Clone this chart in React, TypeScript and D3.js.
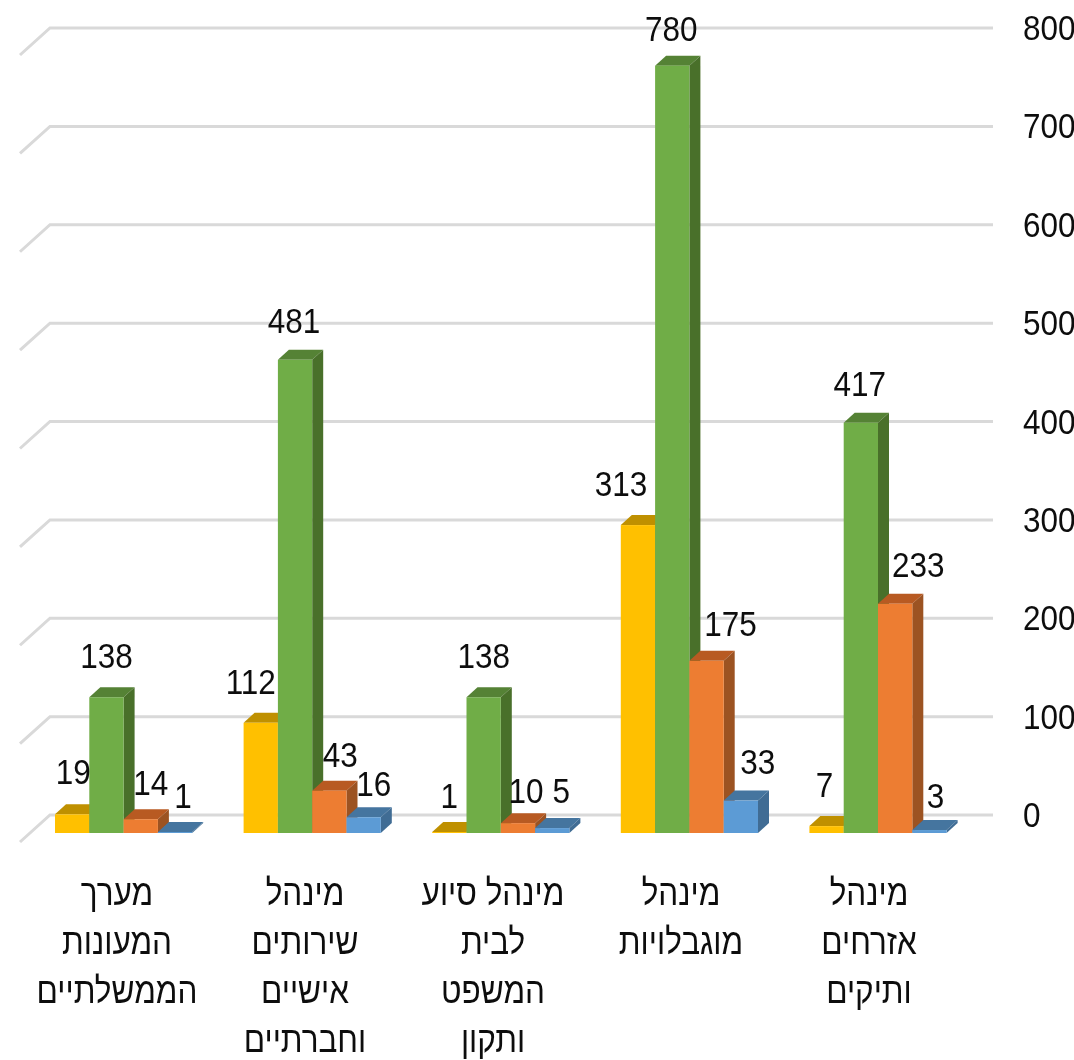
import React from "react";
import * as d3 from "d3";

const categories: string[][] = [
  ["מערך", "המעונות", "הממשלתיים"],
  ["מינהל", "שירותים", "אישיים", "וחברתיים"],
  ["מינהל סיוע", "לבית", "המשפט", "ותקון"],
  ["מינהל", "מוגבלויות"],
  ["מינהל", "אזרחים", "ותיקים"],
];
const yellowValues = [19, 112, 1, 313, 7];
const greenValues = [138, 481, 138, 780, 417];
const orangeValues = [14, 43, 10, 175, 233];
const blueValues = [1, 16, 5, 33, 3];
const seriesKeys = ["yellow", "green", "orange", "blue"];
const tickValues = [0, 100, 200, 300, 400, 500, 600, 700, 800];

const palette: Record<string, { front: string; top: string; side: string }> = {
  yellow: { front: "#FFC000", top: "#BF9000", side: "#A67D00" },
  green: { front: "#70AD47", top: "#548235", side: "#4A6F2B" },
  orange: { front: "#ED7D31", top: "#B85A22", side: "#9C5220" },
  blue: { front: "#5B9BD5", top: "#44749F", side: "#3F6C94" },
};

// layout nudges for data labels (x, baseline gap above front top), by series then category
const labelDx = [
  [1, -10, 0, -17, -2],
  [0, -1, 0, -1, -1],
  [10, 11, 8, 24, 23],
  [8, 10, 9, 17, 6],
];
const labelGap = [
  [30, 29, 24, 29, 29],
  [29, 27, 29, 25, 27],
  [24, 24, 20, 25, 27],
  [24, 21, 25, 27, 22],
];

const W = 1074;
const H = 1060;
const DX = 11;
const DY = -10;
const BACK_DX = 30;
const BACK_DY = 27;

const y = d3.scaleLinear().domain([0, 800]).range([815, 28]);
const yBar = d3.scaleLinear().domain([0, 800]).range([833, 46]);
const barW = 34.3;
const groupStart = (i: number) => 55 + i * 188.6;

const seriesData: number[][] = [yellowValues, greenValues, orangeValues, blueValues];
const font = "'Liberation Sans', Arial, sans-serif";
const textSize = 36;
const squeeze = 0.875;
const poly = (pts: number[][]) => d3.line()(pts as [number, number][]) + "Z";

export default function App() {
  return (
    <svg
      width={W}
      height={H}
      viewBox={`0 0 ${W} ${H}`}
      style={{ position: "absolute", left: 0, top: 0, background: "#fff" }}
    >
      <defs>
        <filter id="soft" x="-5%" y="-5%" width="110%" height="110%">
          <feGaussianBlur stdDeviation="0.6" />
        </filter>
      </defs>
      <g filter="url(#soft)">
        {tickValues.map((t) => (
          <path
            key={t}
            d={d3.line()([
              [50 - BACK_DX, y(t) + BACK_DY],
              [50, y(t)],
              [993, y(t)],
            ])!}
            fill="none"
            stroke="#D9D9D9"
            strokeWidth={3}
          />
        ))}
        {categories.map((_, c) =>
          seriesKeys.map((k, s) => {
            const v = seriesData[s][c];
            const x0 = groupStart(c) + s * barW;
            const x1 = x0 + barW;
            const yTop = yBar(v);
            const yBase = yBar(0);
            const col = palette[k];
            return (
              <g key={k + c}>
                <path d={poly([[x0, yTop], [x0 + DX, yTop + DY], [x1 + DX, yTop + DY], [x1, yTop]])} fill={col.top} />
                <path d={poly([[x1, yTop], [x1 + DX, yTop + DY], [x1 + DX, yBase + DY], [x1, yBase]])} fill={col.side} />
                <rect x={x0} y={yTop} width={barW} height={yBase - yTop} fill={col.front} />
              </g>
            );
          })
        )}
        {categories.map((_, c) =>
          seriesKeys.map((k, s) => {
            const v = seriesData[s][c];
            const cx = groupStart(c) + (s + 0.5) * barW + labelDx[s][c];
            const by = yBar(v) - labelGap[s][c];
            return (
              <text
                key={k + c}
                transform={`translate(${cx},${by}) scale(${squeeze},1)`}
                textAnchor="middle"
                fontFamily={font}
                fontSize={textSize}
                fill="#111"
              >
                {v}
              </text>
            );
          })
        )}
        {tickValues.map((t) => (
          <text
            key={t}
            transform={`translate(1023,${y(t) + 12}) scale(${squeeze},1)`}
            fontFamily={font}
            fontSize={textSize}
            fill="#111"
          >
            {t}
          </text>
        ))}
        {categories.map((lines, c) =>
          lines.map((ln, i) => (
            <text
              key={ln + c + i}
              transform={`translate(${117 + c * 188},${905 + i * 49}) scale(${squeeze},1)`}
              textAnchor="middle"
              direction="rtl"
              fontFamily={font}
              fontSize={textSize}
              fill="#111"
            >
              {ln}
            </text>
          ))
        )}
      </g>
    </svg>
  );
}
